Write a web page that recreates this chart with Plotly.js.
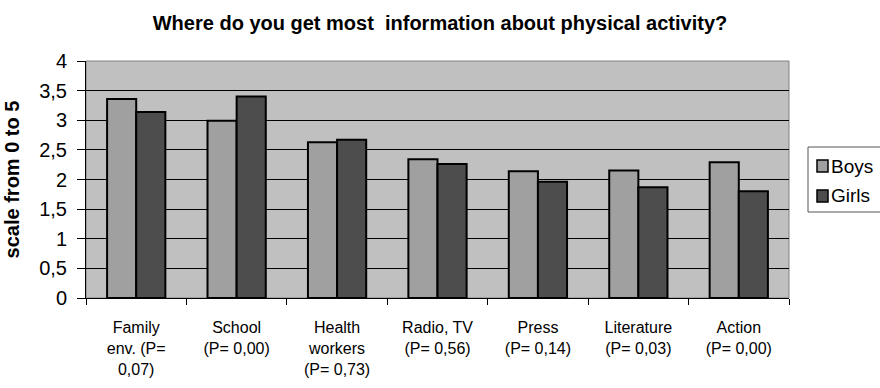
<!DOCTYPE html>
<html><head><meta charset="utf-8">
<script src="https://cdn.plot.ly/plotly-3.0.1.min.js"></script>
<style>body{margin:0;background:#fff}#chart{width:880px;height:388px}</style>
</head><body><div id="chart"></div>
<script>
var categories = ["Family<br>env. (P=<br>0,07)", "School<br>(P= 0,00)", "Health<br>workers<br>(P= 0,73)", "Radio, TV<br>(P= 0,56)", "Press<br>(P= 0,14)", "Literature<br>(P= 0,03)", "Action<br>(P= 0,00)"];
var boys  = [3.36, 2.99, 2.63, 2.34, 2.14, 2.15, 2.29];
var girls = [3.14, 3.40, 2.67, 2.26, 1.96, 1.87, 1.80];
var seriesNames = ["Boys", "Girls"];
var seriesColors = ["#a0a0a0", "#4d4d4d"];
var titleText = "Where do you get most  information about physical activity?";
var yTitle = "scale from 0 to 5";

var font = "Arial, 'Liberation Sans', sans-serif";
var W = 880, H = 388, L = 86, R = 91, T = 61, B = 90;
var pw = W - L - R, ph = H - T - B;
function px(x){ return (x - L) / pw; }
function py(y){ return (H - B - y) / ph; }

var data = [
  {type:'bar', name:seriesNames[0], x:categories, y:boys,
   marker:{color:seriesColors[0], line:{color:'#000', width:2}}},
  {type:'bar', name:seriesNames[1], x:categories, y:girls,
   marker:{color:seriesColors[1], line:{color:'#000', width:2}}}
];

// custom legend (box, swatches, labels)
var shapes = [
  {type:'rect', xref:'paper', yref:'paper', x0:0, x1:1, y0:0, y1:1, line:{color:'#808080', width:1}, layer:'below'},
  {type:'rect', xref:'paper', yref:'paper', x0:px(808), x1:px(884), y0:py(212), y1:py(147), fillcolor:'#fff', line:{color:'#555', width:1}}
];
var annotations = [];
var itemY = [166, 196];
seriesNames.forEach(function(n, i){
  shapes.push({type:'rect', xref:'paper', yref:'paper', x0:px(817), x1:px(828), y0:py(itemY[i]+6), y1:py(itemY[i]-6),
               fillcolor:seriesColors[i], line:{color:'#000', width:1.5}});
  annotations.push({xref:'paper', yref:'paper', x:px(829), y:py(itemY[i]), xanchor:'left', yanchor:'middle',
                    text:n, showarrow:false, font:{size:19, family:font, color:'#000'}});
});

var layout = {
  width:W, height:H,
  margin:{l:L, r:R, t:T, b:B},
  paper_bgcolor:'#fff', plot_bgcolor:'#c0c0c0',
  separators:',.',
  font:{family:font, color:'#000', size:16},
  title:{text:'<b>'+titleText.replace(/  /g,'&nbsp; ')+'</b>', font:{size:20, family:font}, x:0.5, xanchor:'center', y:0.942, yanchor:'middle'},
  bargap:0.42, bargroupgap:0,
  showlegend:false,
  xaxis:{tickson:'boundaries', ticks:'outside', ticklen:6, tickcolor:'#000', tickwidth:1,
         showline:true, linecolor:'#000', linewidth:1, showgrid:false, tickfont:{size:16},
         ticklabelstandoff:15, automargin:false},
  yaxis:{range:[0,4], dtick:0.5, tick0:0, ticks:'outside', ticklen:8, tickcolor:'#000',
         showline:true, linecolor:'#000', linewidth:1, gridcolor:'#000', gridwidth:1,
         tickfont:{size:20}, zeroline:false, automargin:false, ticklabelstandoff:6,
         title:{text:'<b>'+yTitle+'</b>', font:{size:20}, standoff:14}},
  shapes:shapes,
  annotations:annotations
};
Plotly.newPlot('chart', data, layout, {displayModeBar:false});
</script></body></html>
